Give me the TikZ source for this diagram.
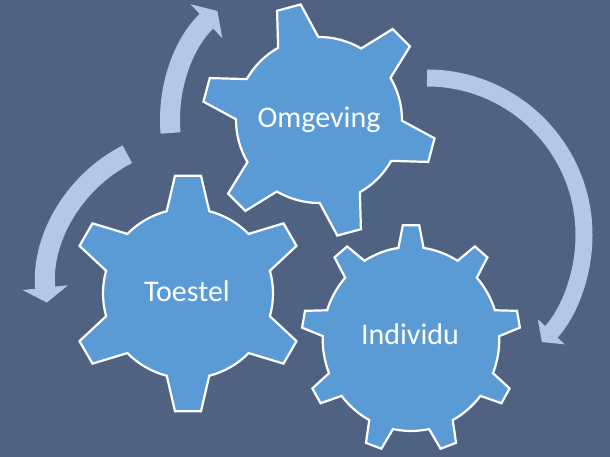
\documentclass[tikz,border=0pt]{standalone}
\usepackage{fontspec}
\setmainfont{Carlito}
\usetikzlibrary{arrows.meta}

\definecolor{slate}{RGB}{79,98,130}
\definecolor{gearblue}{RGB}{91,155,213}
\definecolor{arrowblue}{RGB}{180,199,231}

\begin{document}
\begin{tikzpicture}[x=1pt,y=1pt]
          \tikzstyle{gear}=[fill=gearblue,draw=white,line width=2.2pt,line join=miter]
          \tikzstyle{gearlabel}=[text=white,font=\fontsize{30}{36}\selectfont,anchor=base,inner sep=0pt]
          \tikzstyle{cyclearrow}=[draw=arrowblue,line width=20pt]

          \useasboundingbox (0,0) rectangle (610,457);
          \fill[slate] (0,0) rectangle (610,457);

          \coordinate (omgeving) at (319,337);
          \coordinate (toestel) at (188,163.5);
          \coordinate (individu) at (411,118);

          % curved arrows
          \draw[cyclearrow,-{Triangle[width=46pt,length=15pt]}] (omgeving) ++(185:149) arc[start angle=185, end angle=133, radius=149];
          \draw[cyclearrow,-{Triangle[width=45pt,length=15pt]}] (toestel) ++(7,6.5) ++(117:149) arc[start angle=117, end angle=186, radius=149];
          \draw[cyclearrow,line width=17pt,-{Triangle[width=36pt,length=14pt]}] (427,222) ++(90:157) arc[start angle=90, end angle=-43, radius=157];

          % gears
          \begin{scope}[shift={(omgeving)}]
            \draw[gear] (90.5:83) \foreach \a in {105,165,...,405} {-- ({\a-6}:117) -- ({\a+6}:117) -- ({\a+14.5}:83) arc[start angle={\a+14.5}, end angle={\a+45.5}, radius=83]} -- cycle;
          \end{scope}
          \begin{scope}[shift={(toestel)}]
            \draw[gear] (75.5:85) \foreach \a in {90,150,...,390} {-- ({\a-6.3}:118.5) -- ({\a+6.3}:118.5) -- ({\a+14.5}:85) arc[start angle={\a+14.5}, end angle={\a+45.5}, radius=85]} -- cycle;
          \end{scope}
          \begin{scope}[shift={(individu)},xscale=0.96]
            \draw[gear] (81.8:92) \foreach \a in {90,130,...,410} {-- ({\a-4.3}:114) -- ({\a+4.3}:114) -- ({\a+8.2}:92) arc[start angle={\a+8.2}, end angle={\a+31.8}, radius=92]} -- cycle;
          \end{scope}

          \node (omgevinglabel) at (319,329) [gearlabel] {Omgeving};
          \node (toestellabel) at (187,155.3) [gearlabel] {Toestel};
          \node (individulabel) at (410,112) [gearlabel] {Individu};
        \end{tikzpicture}
\end{document}
